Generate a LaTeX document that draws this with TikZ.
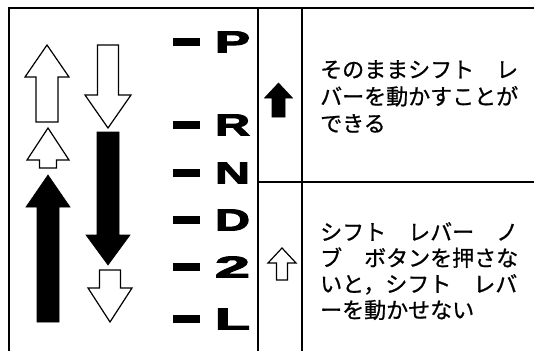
\documentclass[tikz,border=0pt]{standalone}
\usepackage{fontspec}
\setsansfont{Liberation Sans}[BoldFeatures={FakeBold=3}]
\newfontfamily\jpfont{Noto Sans CJK JP}[FakeBold=0.8]
\usetikzlibrary{positioning}

\tikzset{
  rule/.style={line width=1.4pt},
  whitearrow/.style={draw, fill=white, line width=1.2pt, line join=miter},
  blackarrow/.style={draw, fill=black, line width=0.6pt, line join=miter},
  gear/.style={inner sep=0pt, font=\sffamily\bfseries},
  notch/.style={fill=black, minimum width=27pt, minimum height=8.5pt, inner sep=0pt},
  note/.style={inner sep=0pt, align=left, anchor=north west}
}
% style, x, tip y, head base y, end y, head half width, shaft half width
\newcommand{\gatearrow}[7]{%
  \draw[#1] (#2,#3) -- ({#2+#6},#4) -- ({#2+#7},#4) -- ({#2+#7},#5)
    -- ({#2-#7},#5) -- ({#2-#7},#4) -- ({#2-#6},#4) -- cycle;}
\newcommand{\gearlabel}[1]{\resizebox{35pt}{21pt}{#1}}

\begin{document}
\begin{tikzpicture}[x=1pt,y=-1pt,node distance=46pt,on grid]
  \useasboundingbox (0,0) rectangle (534,351);
  % frame
  \draw[rule] (9,351) -- (9,8) -- (534,8);
  \draw[rule] (258,8) -- (258,351);
  \draw[rule] (302,8) -- (302,351);
  \draw[rule] (258,182) -- (534,182);

  % gear positions
  \node[gear] (P) at (232.5,42) {\gearlabel{P}};
  \node[gear] (R) [below=83pt of P] {\gearlabel{R}};
  \node[gear] (N) [below=48pt of R] {\gearlabel{N}};
  \node[gear] (D) [below=47pt of N] {\gearlabel{D}};
  \node[gear] (T) [below=47pt of D] {\gearlabel{2}};
  \node[gear] (L) [below=52pt of T] {\gearlabel{L}};
  \foreach \g in {P,R,N,D,T,L}
    \node[notch] (d\g) [left=of \g] {};

  % lever movements
  \gatearrow{whitearrow}{47}{45}{77}{122}{22}{11}
  \gatearrow{whitearrow}{48}{128}{160}{168}{21}{8.5}
  \gatearrow{blackarrow}{48}{175}{207}{322}{22}{11}
  \gatearrow{whitearrow}{108}{128}{95}{45}{23}{10.5}
  \gatearrow{blackarrow}{108}{265}{235}{132}{22}{11}
  \gatearrow{whitearrow}{110}{322}{288}{270}{22}{10.5}

  % legend
  \gatearrow{blackarrow}{278.5}{83}{98}{117}{14}{6.5}
  \gatearrow{whitearrow}{282}{248}{263}{280}{14}{5.5}
  \node[note, font=\jpfont\fontsize{22}{27}\selectfont] (free) at (320,60)
    {そのままシフト　レ\\バーを動かすことが\\できる};
  \node[note, font=\jpfont\fontsize{22}{26}\selectfont] (knob) at (320,222)
    {シフト　レバー　ノ\\ブ　ボタンを押さな\\いと，シフト　レバ\\ーを動かせない};
\end{tikzpicture}
\end{document}
